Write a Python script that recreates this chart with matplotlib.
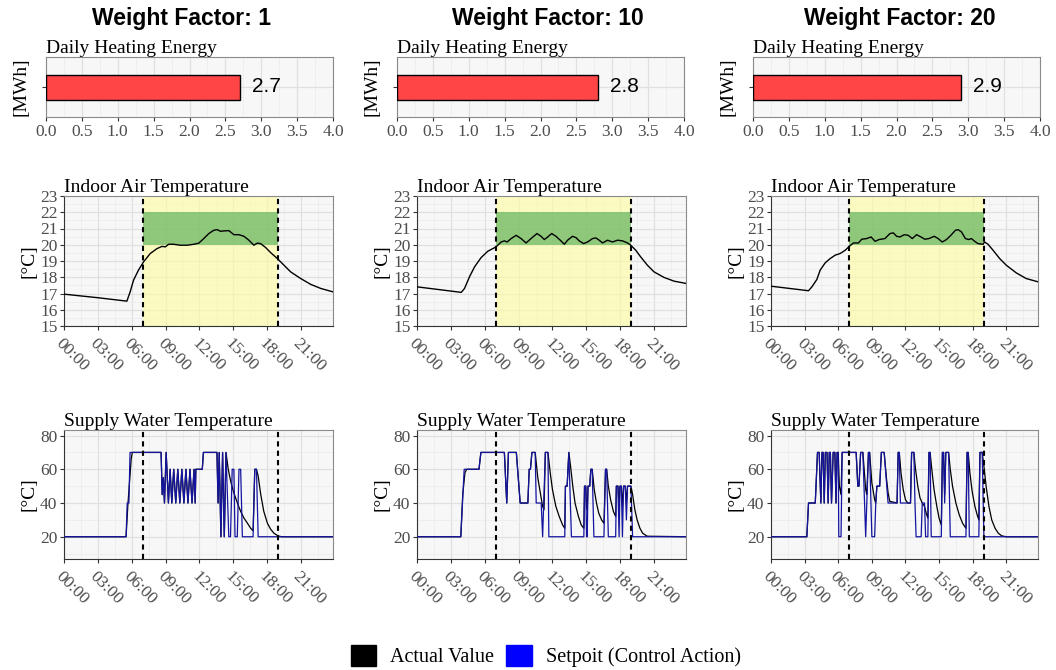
import matplotlib
matplotlib.use("Agg")
import matplotlib.pyplot as plt
from matplotlib.patches import Patch
from matplotlib.ticker import MultipleLocator

W, H = 1056, 670

# ---- data ----
weight_factors = [1, 10, 20]
energy_mwh = [2.7, 2.8, 2.9]

time_ticks = [0, 3, 6, 9, 12, 15, 18, 21]
time_labels = ["00:00", "03:00", "06:00", "09:00", "12:00", "15:00", "18:00", "21:00"]
occupied = (7, 19)        # dashed lines / yellow band
comfort = (20, 22)        # green band

# indoor air temperature, hours -> degC
in1_t = [0, 3, 5.57, 5.86, 6.16, 6.6, 7.05, 7.64, 8.23, 8.68, 8.98, 9.27, 9.72, 10.3, 10.9, 11.5, 11.94,
         12.38, 12.83, 13.27, 13.57, 13.86, 14.16, 14.6, 14.75, 15.05, 15.5, 15.94, 16.38, 16.82, 17.12,
         17.42, 17.86, 18.3, 18.9, 19.49, 20.08, 20.97, 21.86, 22.75, 23.83]
in1_v = [16.96, 16.74, 16.53, 17.1, 17.82, 18.44, 18.95, 19.46, 19.76, 19.9, 19.87, 20.03, 20.03, 19.97,
         19.97, 20.03, 20.1, 20.38, 20.69, 20.89, 20.93, 20.83, 20.85, 20.87, 20.79, 20.62, 20.62, 20.52,
         20.28, 19.97, 20.1, 20.07, 19.83, 19.52, 19.15, 18.74, 18.33, 17.92, 17.56, 17.31, 17.1]

in2_t = [0, 3.92, 4.21, 4.65, 5.1, 5.68, 6.27, 7.01, 7.45, 7.75, 7.98, 8.34, 8.78, 9.22, 9.66, 10.1, 10.63,
         10.99, 11.28, 11.58, 11.93, 12.31, 12.75, 13.05, 13.34, 13.78, 14.08, 14.37, 14.76, 15.11, 15.55,
         15.85, 16.14, 16.44, 16.88, 17.32, 17.76, 18.2, 18.65, 18.94, 19.38, 19.82, 20.41, 21.0, 21.88,
         22.77, 23.83]
in2_v = [17.41, 17.07, 17.31, 18.03, 18.64, 19.21, 19.6, 19.87, 20.17, 20.24, 20.17, 20.38, 20.58, 20.38,
         20.11, 20.38, 20.69, 20.52, 20.32, 20.48, 20.69, 20.52, 20.24, 20.03, 20.28, 20.52, 20.44, 20.24,
         20.07, 20.17, 20.38, 20.42, 20.28, 20.11, 20.28, 20.17, 20.28, 20.24, 20.11, 19.97, 19.66, 19.25,
         18.74, 18.33, 17.99, 17.76, 17.62]

in3_t = [0, 3.35, 3.65, 4.09, 4.39, 4.84, 5.28, 5.73, 6.17, 6.62, 7.0, 7.36, 7.8, 8.1, 8.54, 8.93, 9.29,
         9.64, 10.17, 10.62, 10.92, 11.21, 11.51, 11.9, 12.25, 12.61, 12.99, 13.38, 13.73, 14.09, 14.57,
         14.92, 15.28, 15.66, 16.05, 16.46, 16.7, 17.0, 17.35, 17.65, 17.89, 18.18, 18.48, 18.93, 19.07,
         19.37, 19.82, 20.41, 21.0, 21.89, 22.78, 23.83]
in3_v = [17.45, 17.17, 17.41, 17.86, 18.44, 18.89, 19.15, 19.36, 19.46, 19.66, 19.91, 20.11, 20.11, 20.34,
         20.38, 20.48, 20.21, 20.32, 20.38, 20.69, 20.73, 20.52, 20.48, 20.62, 20.58, 20.38, 20.62, 20.48,
         20.34, 20.38, 20.52, 20.38, 20.17, 20.32, 20.58, 20.89, 20.93, 20.79, 20.38, 20.32, 20.38, 20.21,
         20.07, 20.03, 20.17, 20.03, 19.66, 19.15, 18.74, 18.27, 17.92, 17.72]

# supply water temperature, (hour, degC) vertices
sw1_set = [(0, 20), (5.5, 20), (5.6, 40), (5.75, 40), (5.85, 70), (8.6, 70), (8.7, 45), (8.8, 55), (8.9, 40),
           (9.05, 70), (9.15, 55), (9.25, 40), (9.4, 60), (9.55, 40), (9.72, 60), (9.9, 40), (10.08, 60),
           (10.26, 40), (10.44, 60), (10.62, 40), (10.8, 60), (10.98, 40), (11.16, 60), (11.34, 40),
           (11.52, 60), (11.62, 40), (11.68, 60), (12.25, 60), (12.35, 70), (13.55, 70), (13.65, 40),
           (13.75, 70), (13.9, 20), (14.05, 70), (14.2, 20), (14.35, 70), (14.5, 40), (14.6, 20), (14.75, 20),
           (14.9, 60), (15.05, 60), (15.15, 20), (15.35, 20), (15.5, 60), (15.65, 60), (15.8, 20), (16.75, 20),
           (16.9, 60), (17.05, 60), (17.2, 20), (24, 20)]
sw1_act = [(0, 20), (5.5, 20), (5.65, 38), (5.8, 52), (5.95, 66), (6.05, 70), (8.6, 70), (8.7, 45), (8.8, 55),
           (8.9, 40), (9.05, 70), (9.15, 55), (9.25, 40), (9.4, 60), (9.55, 40), (9.72, 60), (9.9, 40),
           (10.08, 60), (10.26, 40), (10.44, 60), (10.62, 40), (10.8, 60), (10.98, 40), (11.16, 60),
           (11.34, 40), (11.52, 60), (11.62, 40), (11.68, 60), (12.25, 60), (12.35, 70), (13.55, 70),
           (13.65, 40), (13.75, 70), (13.9, 20), (14.05, 70), (14.2, 20), (14.35, 70), (14.55, 60), (14.76, 53),
           (15.0, 47), (15.36, 40), (15.65, 35), (15.95, 31), (16.25, 28), (16.54, 25), (16.75, 23.5),
           (16.9, 60), (17.05, 60), (17.2, 56), (17.43, 45), (17.7, 35), (18.02, 28), (18.3, 24.5),
           (18.61, 22), (19.0, 20.4), (19.3, 20), (24, 20)]

sw2_set = [(0, 20), (3.88, 20), (4.18, 60), (5.49, 60), (5.66, 70), (7.74, 70), (7.95, 40), (8.1, 70), (8.8, 70),
           (9.14, 40), (9.82, 40), (9.94, 60), (10.05, 60), (10.18, 70), (10.47, 70), (10.56, 40), (11.0, 40),
           (11.13, 20), (11.37, 70), (11.6, 70), (11.68, 20), (13.09, 20), (13.15, 50), (13.3, 50), (13.45, 70),
           (13.68, 20), (14.78, 20), (14.84, 50), (14.95, 50), (15.02, 20), (15.08, 20), (15.15, 50), (15.3, 50),
           (15.4, 60), (15.52, 60), (15.67, 20), (16.56, 20), (16.7, 60), (16.8, 60), (16.95, 20), (17.6, 20),
           (17.66, 50), (17.8, 50), (17.9, 20), (17.98, 50), (18.1, 50), (18.2, 20), (18.3, 50), (18.45, 50),
           (18.55, 30), (18.65, 50), (18.95, 50), (19.1, 20), (24, 20)]
sw2_act = [(0, 20), (3.88, 20), (4.05, 45), (4.25, 58), (4.4, 60), (5.49, 60), (5.66, 70), (7.74, 70), (7.95, 40),
           (8.1, 70), (8.8, 70), (9.14, 40), (9.82, 40), (9.94, 60), (10.05, 60), (10.18, 70), (10.47, 70),
           (10.7, 55), (10.95, 45), (11.13, 38), (11.25, 36), (11.37, 70), (11.6, 70), (11.8, 58), (12.0, 48),
           (12.3, 38), (12.6, 32), (12.9, 27), (13.09, 25), (13.15, 50), (13.3, 50), (13.45, 70), (13.6, 62),
           (13.8, 50), (14.0, 40), (14.3, 32), (14.55, 27), (14.78, 25), (14.84, 50), (14.95, 50), (15.02, 38),
           (15.08, 36), (15.15, 50), (15.3, 50), (15.4, 60), (15.52, 60), (15.7, 48), (15.9, 40), (16.1, 34),
           (16.35, 30), (16.56, 28), (16.7, 60), (16.8, 60), (16.95, 50), (17.15, 42), (17.4, 35), (17.6, 32),
           (17.66, 50), (17.8, 50), (17.9, 38), (17.98, 50), (18.1, 50), (18.2, 38), (18.3, 50), (18.45, 50),
           (18.55, 40), (18.65, 50), (18.95, 50), (19.1, 45), (19.3, 36), (19.5, 30), (19.75, 25), (20.0, 22),
           (20.4, 20.3), (24, 20)]

sw3_set = [(0, 20), (3.2, 20), (3.35, 40), (3.95, 40), (4.15, 70), (4.3, 70), (4.45, 40), (4.55, 70), (4.65, 70),
           (4.75, 40), (4.85, 70), (5.0, 70), (5.1, 40), (5.2, 70), (5.3, 70), (5.4, 40), (5.55, 70), (5.7, 70),
           (5.8, 40), (5.9, 70), (6.0, 70), (6.05, 20), (6.25, 20), (6.35, 70), (7.6, 70), (7.75, 50), (7.85, 50),
           (8.0, 70), (8.2, 70), (8.45, 20), (8.55, 40), (8.7, 70), (8.8, 70), (9.0, 20), (9.25, 20), (9.35, 40),
           (9.45, 50), (9.7, 50), (9.85, 70), (10.1, 70), (10.45, 40), (11.25, 40), (11.35, 70), (11.45, 70),
           (11.55, 40), (12.45, 40), (12.55, 70), (12.75, 70), (12.85, 40), (12.95, 20), (13.4, 20), (13.5, 40),
           (13.7, 40), (13.8, 20), (14.0, 20), (14.1, 70), (14.2, 70), (14.3, 20), (15.2, 20), (15.3, 70),
           (15.4, 70), (15.5, 40), (15.6, 70), (15.85, 70), (16.0, 20), (17.4, 20), (17.5, 70), (17.6, 70),
           (17.7, 20), (18.55, 20), (18.65, 70), (18.85, 70), (19.0, 20), (24, 20)]
sw3_act = [(0, 20), (3.2, 20), (3.35, 40), (3.95, 40), (4.15, 70), (4.3, 70), (4.45, 40), (4.55, 70), (4.65, 70),
           (4.75, 40), (4.85, 70), (5.0, 70), (5.1, 40), (5.2, 70), (5.3, 70), (5.4, 40), (5.55, 70), (5.7, 70),
           (5.8, 40), (5.9, 70), (6.0, 70), (6.1, 50), (6.25, 45), (6.35, 70), (7.6, 70), (7.75, 50), (7.85, 50),
           (8.0, 70), (8.2, 70), (8.45, 48), (8.55, 45), (8.7, 70), (8.8, 70), (9.0, 52), (9.25, 42), (9.35, 40),
           (9.45, 50), (9.7, 50), (9.85, 70), (10.1, 70), (10.3, 55), (10.45, 46), (10.6, 41), (11.25, 40),
           (11.35, 70), (11.45, 70), (11.6, 58), (11.8, 48), (12.0, 42), (12.2, 40), (12.45, 40), (12.55, 70),
           (12.75, 70), (12.9, 60), (13.1, 50), (13.3, 43), (13.5, 40), (13.7, 38), (13.85, 34), (14.0, 31),
           (14.1, 70), (14.2, 70), (14.35, 60), (14.55, 48), (14.8, 38), (15.0, 31), (15.2, 27), (15.3, 70),
           (15.4, 70), (15.5, 45), (15.6, 70), (15.85, 70), (16.0, 60), (16.2, 50), (16.5, 40), (16.8, 33),
           (17.1, 28), (17.4, 25), (17.5, 70), (17.6, 70), (17.75, 58), (17.95, 47), (18.2, 38), (18.4, 33),
           (18.55, 30), (18.65, 70), (18.85, 70), (19.0, 62), (19.2, 50), (19.45, 38), (19.7, 30), (20.0, 25),
           (20.3, 22), (20.6, 20.5), (21.0, 20), (24, 20)]

indoor = [(in1_t, in1_v), (in2_t, in2_v), (in3_t, in3_v)]
supply = [(sw1_set, sw1_act), (sw2_set, sw2_act), (sw3_set, sw3_act)]

# ---- layout (pixel boxes: left, top, right, bottom) ----
bar_boxes = [(46, 57, 333, 117), (397, 57, 684, 117), (753, 57, 1040, 117)]
mid_boxes = [(64, 196, 333, 326), (417, 196, 686, 326), (771, 196, 1038, 326)]
low_boxes = [(64, 430, 333, 559), (417, 430, 686, 559), (771, 430, 1038, 559)]
title_x = [182, 548, 900]

SERIF = "Liberation Serif"
SANS = "Liberation Sans"
plt.rcParams["font.family"] = SERIF

fig = plt.figure(figsize=(W / 100, H / 100), dpi=100)


def px_axes(box):
    x0, y0, x1, y1 = box
    return fig.add_axes([x0 / W, 1 - y1 / H, (x1 - x0) / W, (y1 - y0) / H])


def style(ax, title):
    ax.set_facecolor("#F7F7F7")
    ax.grid(which="major", color="#E0E0E0", lw=0.9)
    ax.grid(which="minor", color="#EBEBEB", lw=0.5)
    ax.set_axisbelow(True)
    for s in ax.spines.values():
        s.set_color("#8A8A8A")
        s.set_linewidth(0.8)
    ax.tick_params(which="major", labelsize=12.5, labelcolor="#4D4D4D", color="#333333",
                   length=2.75, width=0.8, pad=2)
    ax.tick_params(which="minor", length=0)
    ax.set_title(title, loc="left", fontsize=14, pad=2)


def time_axis(ax):
    ax.set_xlim(0, 23.83)
    ax.set_xticks(time_ticks)
    ax.set_xticklabels(time_labels, rotation=-45, ha="left", va="top", rotation_mode="anchor")
    ax.xaxis.set_minor_locator(MultipleLocator(1.5))
    ax.tick_params(axis="x", pad=4)
    for ln in occupied:
        ax.axvline(ln, color="black", lw=1.5, ls=(0, (2.5, 2)), zorder=4)
    ax.spines["left"].set_color("#333333")
    ax.spines["bottom"].set_color("#333333")


for i in range(3):
    fig.text(title_x[i] / W, 1 - 19 / H, f"Weight Factor: {weight_factors[i]}", family=SANS,
             fontweight="bold", fontsize=16.5, ha="center", va="center")

    # daily heating energy
    ax = px_axes(bar_boxes[i])
    style(ax, "Daily Heating Energy")
    ax.barh([1], [energy_mwh[i]], height=0.5, color="#FF4545", edgecolor="black", lw=1, zorder=3)
    ax.text(energy_mwh[i] + 0.17, 1, f"{energy_mwh[i]}", family=SANS, fontsize=15, va="center", ha="left")
    ax.set_xlim(0, 4)
    ax.set_ylim(0.4, 1.6)
    ax.set_xticks([x / 2 for x in range(9)])
    ax.set_xticklabels([f"{x / 2:.1f}" for x in range(9)])
    ax.xaxis.set_minor_locator(MultipleLocator(0.25))
    ax.set_yticks([1])
    ax.set_yticklabels([""])
    ax.set_ylabel("[MWh]", fontsize=14, labelpad=7)

    # indoor air temperature
    ax = px_axes(mid_boxes[i])
    style(ax, "Indoor Air Temperature")
    ax.axvspan(occupied[0], occupied[1], color="#FFFF9E", alpha=0.6, lw=0, zorder=1)
    ax.fill_between(list(occupied), comfort[0], comfort[1], color="#47A74C", alpha=0.6, lw=0, zorder=1.5)
    t, v = indoor[i]
    ax.plot(t, v, color="black", lw=1.0, zorder=3)
    ax.set_ylim(15, 23)
    ax.set_yticks(range(15, 24))
    ax.yaxis.set_minor_locator(MultipleLocator(0.5))
    ax.set_ylabel("[°C]", fontsize=14, labelpad=2)
    time_axis(ax)

    # supply water temperature
    ax = px_axes(low_boxes[i])
    style(ax, "Supply Water Temperature")
    sp, act = supply[i]
    ax.plot([p[0] for p in act], [p[1] for p in act], color="black", lw=0.9, zorder=2)
    ax.plot([p[0] for p in sp], [p[1] for p in sp], color="#1414A0", lw=0.9, zorder=3)
    ax.set_ylim(6.8, 83.3)
    ax.set_yticks([20, 40, 60, 80])
    ax.yaxis.set_minor_locator(MultipleLocator(10))
    ax.set_ylabel("[°C]", fontsize=14, labelpad=2)
    time_axis(ax)

handles = [Patch(facecolor="black", edgecolor="black", label="Actual Value"),
           Patch(facecolor="#0000FF", edgecolor="#0000FF", label="Setpoit (Control Action)")]
fig.legend(handles=handles, loc="center", bbox_to_anchor=(0.517, 1 - 656 / H), ncol=2, frameon=False,
           fontsize=14.5, handlelength=1.25, handleheight=1.25, handletextpad=0.7, columnspacing=0.6)

fig.savefig("out.png", dpi=100)
